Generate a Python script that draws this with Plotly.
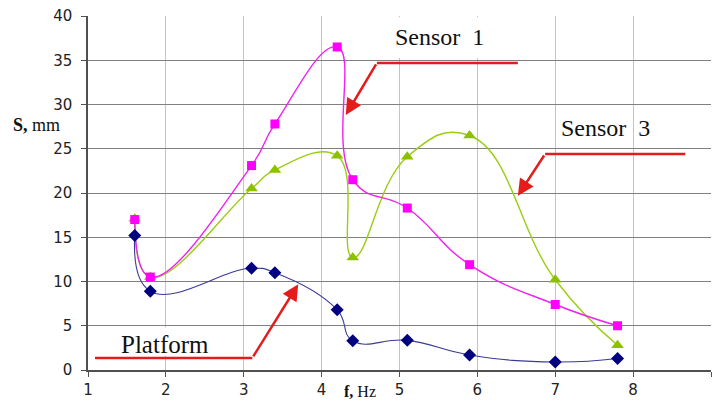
import plotly.graph_objects as go

# Frequency (Hz) of each measurement
freq = [1.6, 1.8, 3.1, 3.4, 4.2, 4.4, 5.1, 5.9, 7.0, 7.8]

# Displacement amplitude S (mm)
platform = [15.2, 8.9, 11.5, 11.0, 6.8, 3.3, 3.35, 1.7, 0.9, 1.3]
sensor1 = [17.0, 10.5, 23.1, 27.8, 36.5, 21.5, 18.3, 11.9, 7.4, 5.0]
sensor3 = [17.1, 10.5, 20.5, 22.6, 24.2, 12.7, 24.1, 26.5, 10.2, 2.8]

x_ticks = [1, 2, 3, 4, 5, 6, 7, 8, 9]
y_ticks = [0, 5, 10, 15, 20, 25, 30, 35, 40]

RED = "#e41c1c"
SERIF = "Liberation Serif, Times New Roman, serif"
SANS = "DejaVu Sans, Arial, sans-serif"
SMOOTH = 1.3

fig = go.Figure()

fig.add_trace(go.Scatter(
    x=freq, y=sensor3, mode="lines+markers",
    line=dict(color="#9acd14", width=1.4, shape="spline", smoothing=SMOOTH),
    marker=dict(symbol="triangle-up", size=11, color="#8cc000"),
    name="Sensor 3", showlegend=False,
))
fig.add_trace(go.Scatter(
    x=freq, y=sensor1, mode="lines+markers",
    line=dict(color="#f020f0", width=1.4, shape="spline", smoothing=SMOOTH),
    marker=dict(symbol="square", size=9, color="#ff00ff"),
    name="Sensor 1", showlegend=False,
))
fig.add_trace(go.Scatter(
    x=freq, y=platform, mode="lines+markers",
    line=dict(color="#3a3a9a", width=1.1, shape="spline", smoothing=SMOOTH),
    marker=dict(symbol="diamond", size=10, color="#000080"),
    name="Platform", showlegend=False,
))

shapes = [
    # clear areas behind the "Sensor 1" and "Platform" captions
    dict(type="rect", xref="x", yref="y", x0=4.74, x1=6.52, y0=35.25, y1=39.85,
         fillcolor="white", line=dict(width=0), layer="between"),
    dict(type="rect", xref="x", yref="y", x0=1.4, x1=2.6, y0=1.6, y1=4.8,
         fillcolor="white", line=dict(width=0), layer="between"),
    # horizontal leader lines
    dict(type="line", xref="x", yref="y", x0=4.71, x1=6.52, y0=34.7, y1=34.7,
         line=dict(color=RED, width=2.5)),
    dict(type="line", xref="x", yref="y", x0=6.87, x1=8.67, y0=24.4, y1=24.4,
         line=dict(color=RED, width=2.5)),
    dict(type="line", xref="x", yref="y", x0=1.09, x1=3.11, y0=1.36, y1=1.36,
         line=dict(color=RED, width=2.5)),
]

annotations = [
    # diagonal arrows
    dict(x=4.31, y=28.8, ax=4.71, ay=34.7, xref="x", yref="y", axref="x", ayref="y",
         text="", showarrow=True, arrowhead=2, arrowsize=1.3, arrowwidth=2.5,
         arrowcolor=RED, standoff=0),
    dict(x=6.52, y=19.7, ax=6.87, ay=24.4, xref="x", yref="y", axref="x", ayref="y",
         text="", showarrow=True, arrowhead=2, arrowsize=1.3, arrowwidth=2.5,
         arrowcolor=RED, standoff=0),
    dict(x=3.70, y=9.7, ax=3.11, ay=1.36, xref="x", yref="y", axref="x", ayref="y",
         text="", showarrow=True, arrowhead=2, arrowsize=1.3, arrowwidth=2.5,
         arrowcolor=RED, standoff=0),
    # captions
    dict(x=5.52, y=37.6, xref="x", yref="y", text="Sensor\u00a0 1", showarrow=False,
         font=dict(family=SERIF, size=24, color="#111")),
    dict(x=7.65, y=27.4, xref="x", yref="y", text="Sensor\u00a0 3", showarrow=False,
         font=dict(family=SERIF, size=24, color="#111")),
    dict(x=1.99, y=2.9, xref="x", yref="y", text="Platform", showarrow=False,
         font=dict(family=SERIF, size=25, color="#111")),
    # axis titles
    dict(x=36, y=125, xref="paper", yref="paper", text="<b>S,</b> mm", showarrow=False,
         font=dict(family=SERIF, size=18, color="#111")),
    dict(x=360, y=391, xref="paper", yref="paper", text="<b>f,</b> Hz", showarrow=False,
         font=dict(family=SERIF, size=16, color="#111")),
]

# convert pixel-placed titles to paper coordinates
PL, PR, PT, PB = 88, 3, 16, 31
W, H = 714, 401
for a in annotations:
    if a.get("xref") == "paper":
        a["x"] = (a["x"] - PL) / (W - PL - PR)
        a["y"] = (H - PB - a["y"]) / (H - PT - PB)
        a["xanchor"] = "center"
        a["yanchor"] = "middle"

fig.update_layout(
    width=W, height=H,
    margin=dict(l=PL, r=PR, t=PT, b=PB),
    paper_bgcolor="white", plot_bgcolor="white",
    showlegend=False,
    shapes=shapes,
    annotations=annotations,
    xaxis=dict(
        range=[1, 9], tickvals=x_ticks, ticktext=[str(v) for v in x_ticks],
        showgrid=True, gridcolor="#c4c4c4", gridwidth=1,
        showline=True, linecolor="#505050", linewidth=1.5,
        ticks="outside", ticklen=5, tickcolor="#505050",
        tickfont=dict(family=SANS, size=15, color="#222"),
        zeroline=False,
    ),
    yaxis=dict(
        range=[0, 40], tickvals=y_ticks, ticktext=[str(v) for v in y_ticks],
        showgrid=True, gridcolor="#808080", gridwidth=1,
        showline=True, linecolor="#505050", linewidth=1.5,
        ticks="outside", ticklen=5, tickcolor="#505050",
        tickfont=dict(family=SANS, size=15, color="#222"),
        ticklabelstandoff=6,
        zeroline=False,
    ),
)

fig.write_html("out.html")
